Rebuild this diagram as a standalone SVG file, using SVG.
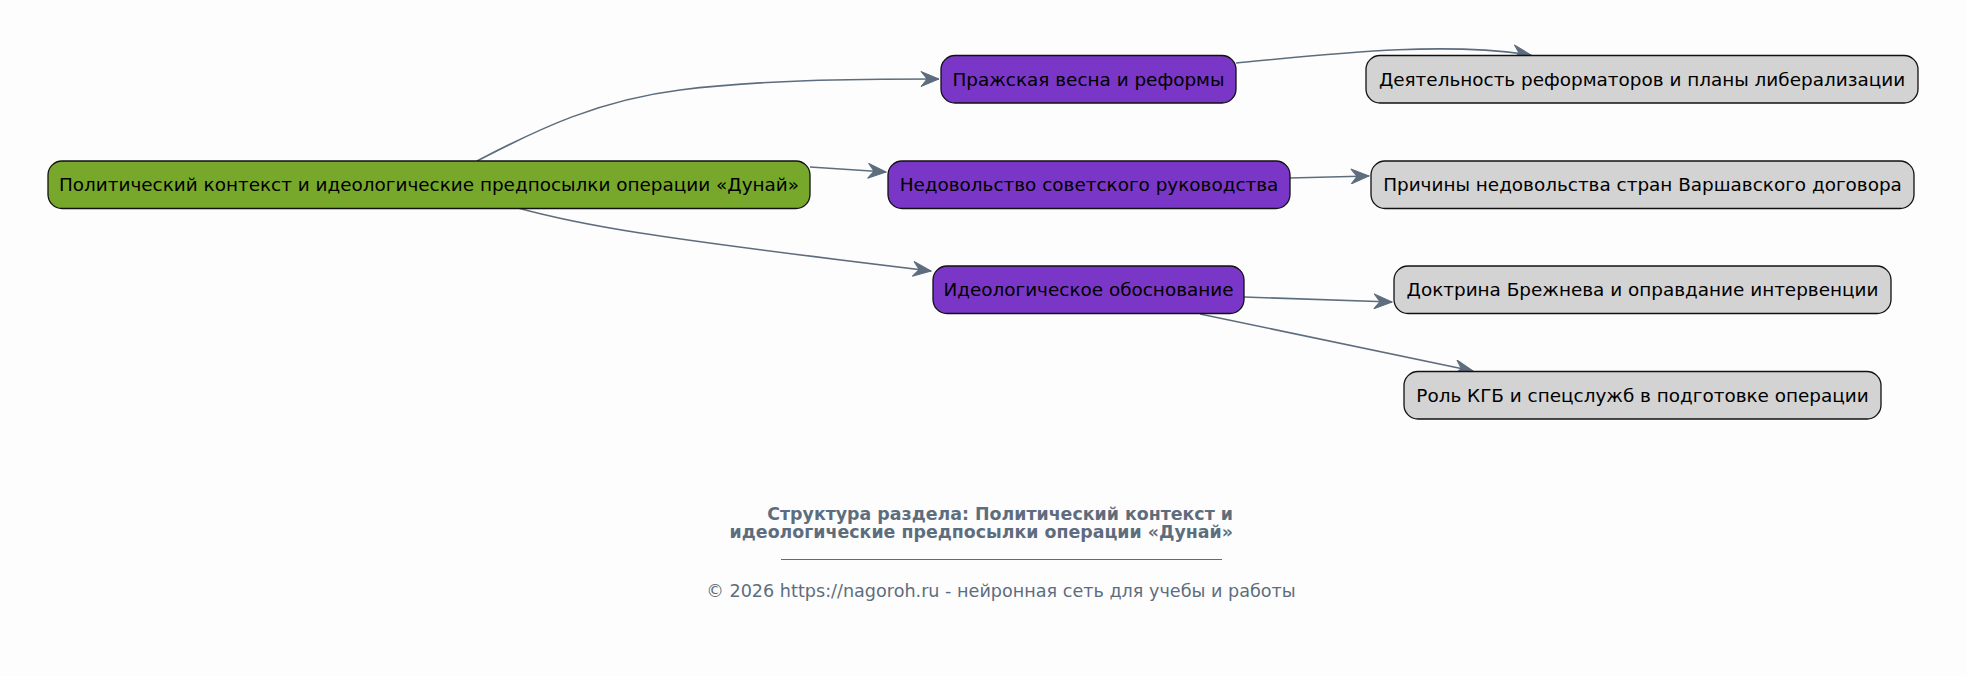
<svg xmlns="http://www.w3.org/2000/svg" width="1967" height="676" viewBox="0 0 1967 676">
<defs>
<style>
.bg{fill:#fdfdfd}
.n rect{stroke:#111;stroke-width:1.3}
.root rect{fill:#78a82b}
.mid rect{fill:#7a36c6}
.leaf rect{fill:#d3d3d3}
.n text{font-family:"DejaVu Sans",sans-serif;font-size:18.4px;fill:#000;text-anchor:middle}
.e path{fill:none;stroke:#5d6d7e;stroke-width:1.6;marker-end:url(#vee)}
.t{font-family:"DejaVu Sans",sans-serif;fill:#5d6d7e}
</style>
<marker id="vee" viewBox="-19 -8 20 16" refX="0" refY="0" markerWidth="20" markerHeight="16" markerUnits="userSpaceOnUse" orient="auto">
<polygon points="0,0 -18,-7.5 -12,0 -18,7.5" fill="#5d6d7e" stroke="#5d6d7e" stroke-width="1"/>
</marker>
</defs>
<rect class="bg" x="0" y="0" width="1967" height="676"/>
<g id="edges" class="e">
<path d="M477,161 C540,128 600,100 680,90 C760,80 850,79 939,79"/>
<path d="M810,167 L886,172"/>
<path d="M518,208 C580,225 640,236 931,271"/>
<path d="M1236,63 C1330,54 1440,41 1531,55"/>
<path d="M1290,178 L1369,176"/>
<path d="M1244,297 L1392,302"/>
<path d="M1200,314 L1473,371"/>
</g>
<g id="n_root" class="n root">
<rect x="48" y="161" width="762" height="47.5" rx="14"/>
<text x="429" y="191">Политический контекст и идеологические предпосылки операции «Дунай»</text>
</g>
<g id="n_prague" class="n mid">
<rect x="941" y="55.5" width="295" height="47.5" rx="14"/>
<text x="1088.5" y="85.5">Пражская весна и реформы</text>
</g>
<g id="n_discontent" class="n mid">
<rect x="888" y="161" width="402" height="47.5" rx="14"/>
<text x="1089" y="191">Недовольство советского руководства</text>
</g>
<g id="n_ideology" class="n mid">
<rect x="933" y="266" width="311" height="47.5" rx="14"/>
<text x="1088.5" y="296">Идеологическое обоснование</text>
</g>
<g id="n_reformers" class="n leaf">
<rect x="1366" y="55.5" width="552" height="47.5" rx="14"/>
<text x="1642" y="85.5">Деятельность реформаторов и планы либерализации</text>
</g>
<g id="n_reasons" class="n leaf">
<rect x="1371" y="161" width="543" height="47.5" rx="14"/>
<text x="1642.5" y="191">Причины недовольства стран Варшавского договора</text>
</g>
<g id="n_brezhnev" class="n leaf">
<rect x="1394" y="266" width="497" height="47.5" rx="14"/>
<text x="1642.5" y="296">Доктрина Брежнева и оправдание интервенции</text>
</g>
<g id="n_kgb" class="n leaf">
<rect x="1404" y="371.5" width="477" height="47.5" rx="14"/>
<text x="1642.5" y="401.5">Роль КГБ и спецслужб в подготовке операции</text>
</g>
<g id="caption">
<text class="t" x="1233" y="520" font-size="17.4" font-weight="bold" text-anchor="end">Структура раздела: Политический контекст и</text>
<text class="t" x="1233" y="538" font-size="17.4" font-weight="bold" text-anchor="end">идеологические предпосылки операции «Дунай»</text>
<line x1="781" y1="559.5" x2="1222" y2="559.5" stroke="#5d6d7e" stroke-width="1"/>
<text class="t" x="1001" y="597" font-size="17.6" text-anchor="middle">© 2026 https://nagoroh.ru - нейронная сеть для учебы и работы</text>
</g>
</svg>
